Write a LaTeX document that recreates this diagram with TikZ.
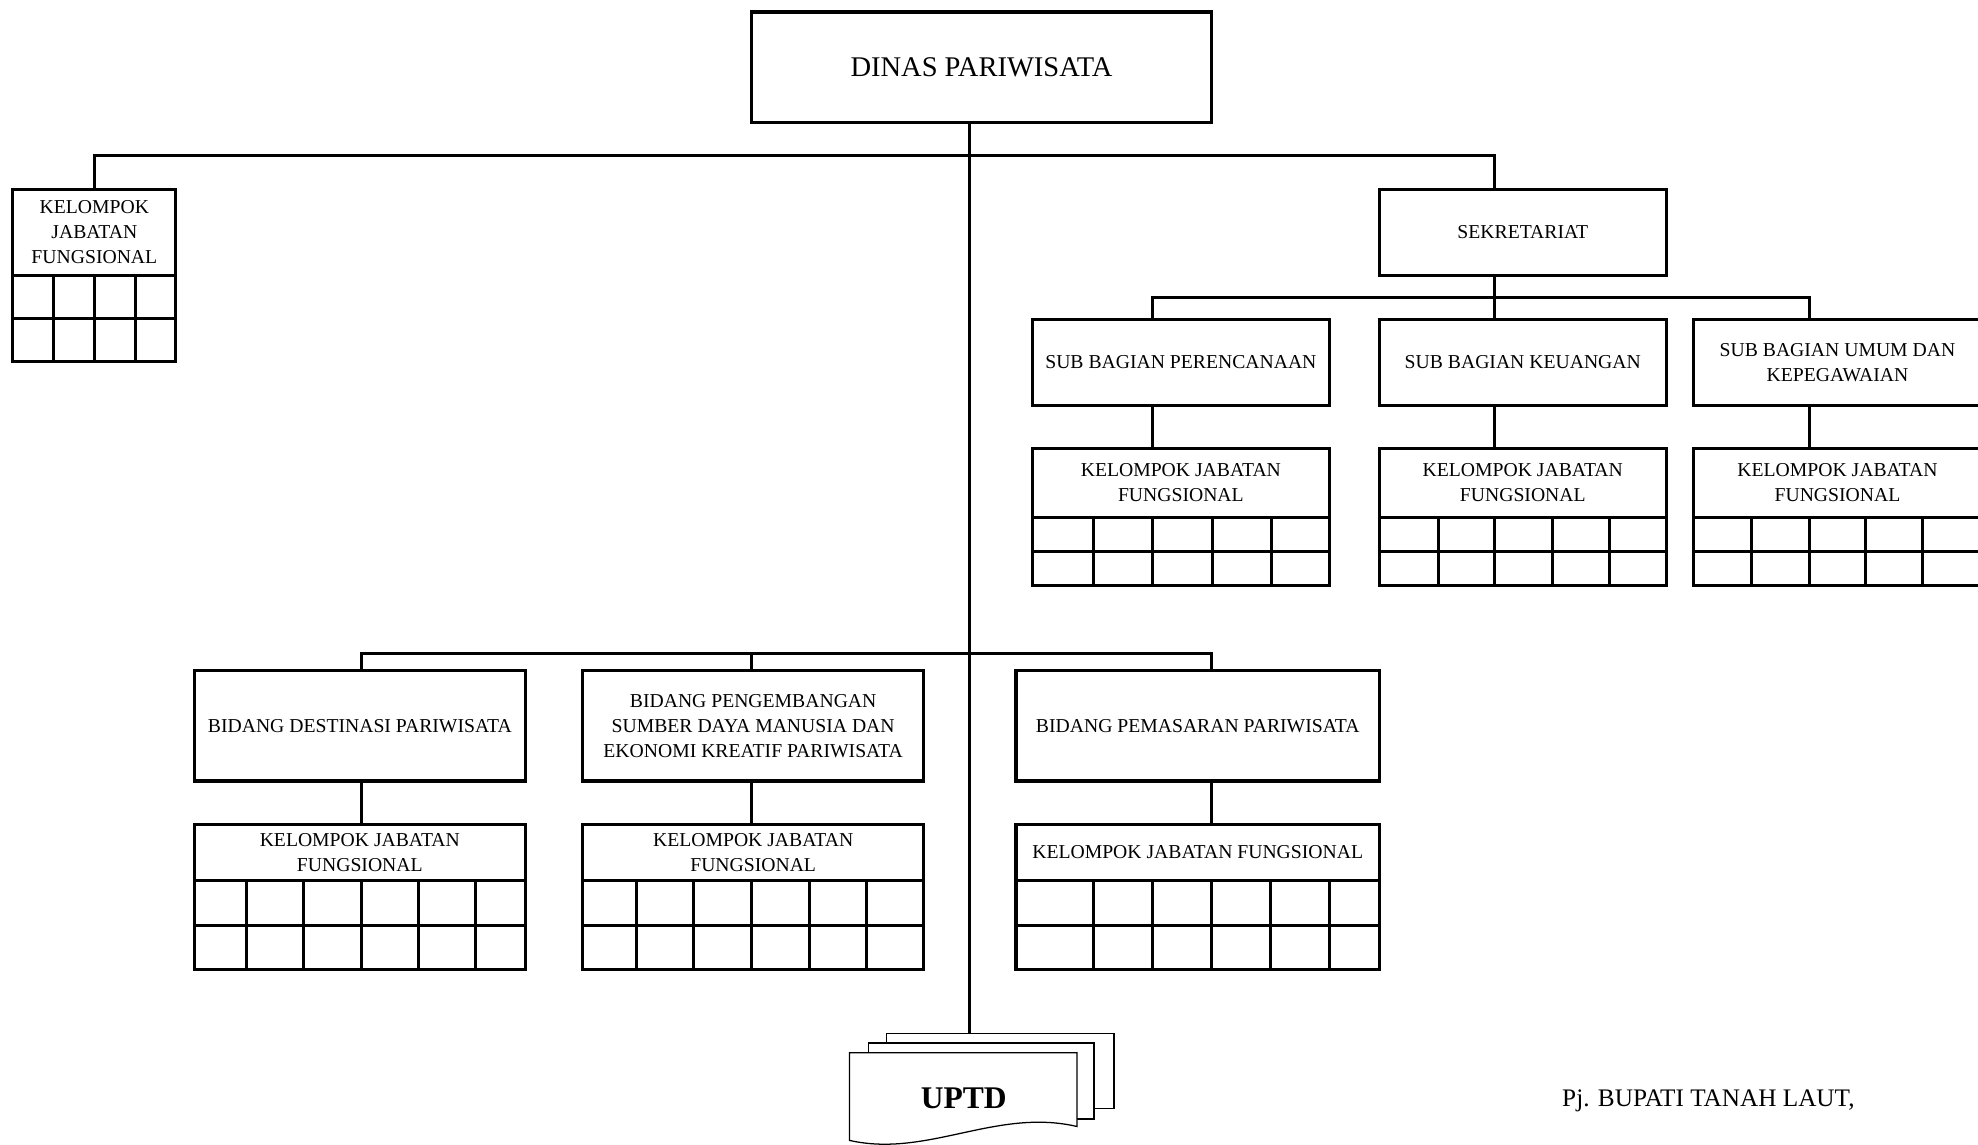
\documentclass[tikz,border=0pt]{standalone}
\usepackage{fontspec}
\setmainfont{Liberation Serif}
\newcommand\lbl{\fontsize{7.8}{9.9}\selectfont}
\tikzset{
  box/.style={draw, line width=1.2pt, rectangle, inner sep=0pt, outer sep=0pt, align=center, font=\lbl, fill=white},
  conn/.style={line width=1.2pt},
  gl/.style={line width=1.2pt},
  page/.style={draw, line width=0.5pt, fill=white, inner sep=0pt, outer sep=0pt, rectangle},
}
\newcommand\bx[6]{\node[box, minimum width={(#4-#2)*0.5pt}, minimum height={(#5-#3)*0.5pt}] (#1) at ({(#2+#4)/2},{(#3+#5)/2}) {#6};}
\newcommand\grd[7]{%
  \node[box, minimum width={(#4-#2)*0.5pt}, minimum height={(#5-#3)*0.5pt}] (#1) at ({(#2+#4)/2},{(#3+#5)/2}) {};
  \draw[gl] (#2,#6) -- (#4,#6);
  \foreach \cx in {#7} {\draw[gl] (\cx,#3) -- (\cx,#5);}
}
\begin{document}
\begin{tikzpicture}[x=0.5pt,y=-0.5pt]
\useasboundingbox (0,0) rectangle (1568,907);
\clip (0,0) rectangle (1568,907);
\fill[white] (0,0) rectangle (1568,907);

% top
\bx{top}{595.6}{9.5}{960.5}{97.3}{\fontsize{11.3}{13}\selectfont DINAS PARIWISATA}

% left functional group
\bx{k0}{10.1}{150}{139.5}{218.3}{KELOMPOK\\JABATAN\\FUNGSIONAL}
\grd{k0g}{10.1}{218.3}{139.5}{286.7}{252.3}{42.5,74.8,107.7}

% secretariat
\bx{sek}{1093.4}{150}{1320.9}{218.5}{SEKRETARIAT}
\bx{sb1}{818.4}{252.9}{1053.8}{321.6}{SUB BAGIAN PERENCANAAN}
\bx{sb2}{1093.4}{252.9}{1320.9}{321.6}{SUB BAGIAN KEUANGAN}
\bx{sb3}{1342.6}{252.9}{1570.6}{321.6}{SUB BAGIAN UMUM DAN\\KEPEGAWAIAN}

\bx{k1}{818.4}{355.4}{1053.8}{410.4}{KELOMPOK JABATAN\\FUNGSIONAL}
\grd{k1g}{818.4}{410.4}{1053.8}{464.5}{436.8}{866.9,913.8,960.8,1007.8}
\bx{k2}{1093.4}{355.4}{1320.9}{410.4}{KELOMPOK JABATAN\\FUNGSIONAL}
\grd{k2g}{1093.4}{410.4}{1320.9}{464.5}{436.8}{1140.4,1184.9,1230.4,1275.9}
\bx{k3}{1342.6}{355.4}{1570.6}{410.4}{KELOMPOK JABATAN\\FUNGSIONAL}
\grd{k3g}{1342.6}{410.4}{1570.6}{464.5}{436.8}{1388.6,1434.1,1479.1,1524.1}

% bidang
\bx{bd1}{154}{531.7}{416.5}{619.1}{BIDANG DESTINASI PARIWISATA}
\bx{bd2}{462.1}{531.7}{732}{619.1}{BIDANG PENGEMBANGAN\\SUMBER DAYA MANUSIA DAN\\EKONOMI KREATIF PARIWISATA}
\bx{bd3}{805.4}{531.7}{1093.5}{619.1}{BIDANG PEMASARAN PARIWISATA}

\bx{kb1}{154}{653.2}{416.5}{698.1}{KELOMPOK JABATAN\\FUNGSIONAL}
\grd{kb1g}{154}{698.1}{416.5}{768.9}{733.8}{195.2,240.6,286.3,332,377.3}
\bx{kb2}{462.1}{653.2}{732}{698.1}{KELOMPOK JABATAN\\FUNGSIONAL}
\grd{kb2g}{462.1}{698.1}{732}{768.9}{733.8}{504.6,550,595.7,641.4,686.7}
\bx{kb3}{805.4}{653.2}{1093.5}{698.1}{KELOMPOK JABATAN FUNGSIONAL}
\grd{kb3g}{805.4}{698.1}{1093.5}{768.9}{733.8}{866.9,913.4,960,1007,1054.1}

% UPTD pages
\node[page, minimum width={(883.1-702.7)*0.5pt}, minimum height={(879-819)*0.5pt}] (u3) at ({(702.7+883.1)/2},{(819+879)/2}) {};
\node[page, minimum width={(867.2-688.6)*0.5pt}, minimum height={(887-826.8)*0.5pt}] (u2) at ({(688.6+867.2)/2},{(826.8+887)/2}) {};
\path[draw, fill=white, line width=0.5pt] (673.4,834.5) -- (853.8,834.5) -- (853.8,893)
  .. controls (790,878) and (735,918) .. (673.4,904) -- cycle;
\node[font=\fontsize{12.5}{14}\selectfont\bfseries, inner sep=0pt] (uptd) at (764,871) {UPTD};

\node[font=\fontsize{10}{12}\selectfont, anchor=west, inner sep=0pt] (pj) at (1238,873) {Pj. BUPATI TANAH LAUT,};

% connectors
\coordinate (h0) at (768.5,122.9);
\coordinate (hL) at (74.8,122.9);
\coordinate (hR) at (1184.9,122.9);
\draw[conn] (k0.north) -- (hL) -- (hR) -- (sek.north -| hR);
\draw[conn] (top.south -| h0) -- (u3.north -| h0);

\coordinate (s1) at (913.8,235.7);
\coordinate (s2) at (1184.9,235.7);
\coordinate (s3) at (1434.1,235.7);
\draw[conn] (sek.south -| s2) -- (s2);
\draw[conn] (sb1.north -| s1) -- (s1) -- (s3) -- (sb3.north -| s3);
\draw[conn] (s2) -- (sb2.north -| s2);
\draw[conn] (sb1.south -| s1) -- (k1.north -| s1);
\draw[conn] (sb2.south -| s2) -- (k2.north -| s2);
\draw[conn] (sb3.south -| s3) -- (k3.north -| s3);

\coordinate (b1) at (286.3,518.4);
\coordinate (b2) at (595.7,518.4);
\coordinate (b3) at (960,518.4);
\draw[conn] (bd1.north -| b1) -- (b1) -- (b3) -- (bd3.north -| b3);
\draw[conn] (b2) -- (bd2.north -| b2);
\draw[conn] (bd1.south -| b1) -- (kb1.north -| b1);
\draw[conn] (bd2.south -| b2) -- (kb2.north -| b2);
\draw[conn] (bd3.south -| b3) -- (kb3.north -| b3);
\end{tikzpicture}
\end{document}
